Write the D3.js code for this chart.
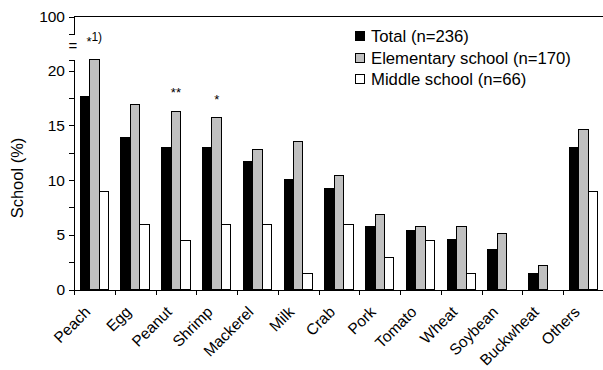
<!DOCTYPE html>
<html lang="en">
<head>
    <meta charset="UTF-8">
    <title>Food allergy by school</title>
    <script src="https://d3js.org/d3.v7.min.js"></script>
    <style>
        body { margin: 0; background: #fff; }
        svg text { font-family: "Liberation Sans", Arial, sans-serif; fill: #000; }
        .axis path, .axis line { fill: none; stroke: #000; shape-rendering: crispEdges; }
        .axis text { font-size: 15.5px; }
        .bar { stroke: #000; stroke-width: 1px; shape-rendering: crispEdges; }
    </style>
</head>
<body>
<svg width="603" height="370"></svg>
<script>
    // Data
    const categories = ["Peach", "Egg", "Peanut", "Shrimp", "Mackerel", "Milk", "Crab",
        "Pork", "Tomato", "Wheat", "Soybean", "Buckwheat", "Others"];
    const series = ["Total (n=236)", "Elementary school (n=170)", "Middle school (n=66)"];
    const total      = [17.6, 13.9, 13.0, 13.0, 11.7, 10.1, 9.2, 5.8, 5.4, 4.6, 3.7, 1.5, 13.0];
    const elementary = [21.0, 16.9, 16.3, 15.7, 12.8, 13.5, 10.4, 6.9, 5.8, 5.8, 5.1, 2.2, 14.6];
    const middle     = [9.0, 5.9, 4.5, 5.9, 5.9, 1.5, 5.9, 2.9, 4.5, 1.5, 0, 0, 9.0];
    const yTicks = [0, 2.5, 5, 7.5, 10, 12.5, 15, 17.5, 20];
    const marks = [{cat: "Peach", text: "*", sup: "1)"}, {cat: "Peanut", text: "**"}, {cat: "Shrimp", text: "*"}];

    const colors = ["#000000", "#c0c0c0", "#ffffff"];
    const values = [total, elementary, middle];

    const svg = d3.select("svg");

    // lower part of the broken axis (0-21), upper stub shows 100
    const y = d3.scaleLinear().domain([0, 21]).range([289.5, 59.8]);
    const yTop = d3.scaleLinear().domain([99, 100]).range([34, 16.5]);

    const x = d3.scaleBand().domain(categories).range([74, 604]).padding(0);
    const xSub = d3.scaleBand().domain(series).range([0, x.bandwidth()]).paddingOuter(0.66);

    // bars
    series.forEach((s, i) => {
        svg.append("g").selectAll("rect")
            .data(categories.map((c, j) => ({cat: c, v: values[i][j]})).filter(d => d.v > 0))
            .join("rect")
            .attr("class", "bar")
            .attr("x", d => x(d.cat) + xSub(s))
            .attr("y", d => y(d.v))
            .attr("width", xSub.bandwidth())
            .attr("height", d => y(0) - y(d.v))
            .attr("fill", colors[i]);
    });

    // y axis, lower segment
    svg.append("g")
        .attr("class", "axis")
        .attr("transform", "translate(74,0)")
        .call(d3.axisLeft(y).tickValues(yTicks).tickSizeOuter(0).tickSize(5).tickPadding(4)
            .tickFormat(d => d % 5 === 0 ? d : ""));

    // y axis, upper segment
    svg.append("g")
        .attr("class", "axis")
        .attr("transform", "translate(74,0)")
        .call(d3.axisLeft(yTop).tickValues([100]).tickSizeOuter(0).tickSize(5).tickPadding(4)
            .tickFormat(d3.format("d")));

    // top frame line
    svg.append("line")
        .attr("x1", 74).attr("x2", 603)
        .attr("y1", yTop(100)).attr("y2", yTop(100))
        .attr("stroke", "#000").attr("shape-rendering", "crispEdges");

    // axis break sign
    svg.append("text")
        .attr("x", 73).attr("y", 51)
        .attr("text-anchor", "middle")
        .style("font-size", "15px")
        .text("=");

    // x axis with ticks on category boundaries
    const xEdge = d3.scaleLinear().domain([0, categories.length]).range(x.range());
    svg.append("g")
        .attr("class", "axis")
        .attr("transform", "translate(0," + y(0) + ")")
        .call(d3.axisBottom(xEdge).tickValues(d3.range(categories.length + 1))
            .tickSizeOuter(0).tickSize(5).tickFormat(""));

    svg.append("g").selectAll("text")
        .data(categories)
        .join("text")
        .attr("transform", d => "translate(" + (x(d) + x.bandwidth() / 2 - 3) + ",313) rotate(-45)")
        .attr("text-anchor", "end")
        .style("font-size", "15.5px")
        .text(d => d);

    // y title
    svg.append("text")
        .attr("transform", "translate(23,178) rotate(-90)")
        .attr("text-anchor", "middle")
        .style("font-size", "16.5px")
        .text("School (%)");

    // significance marks above elementary bars
    marks.forEach(m => {
        const j = categories.indexOf(m.cat);
        const cx = x(m.cat) + xSub(series[1]) + xSub.bandwidth() / 2;
        const t = svg.append("text")
            .attr("x", m.sup ? cx - 8 : cx)
            .attr("y", m.sup ? 46 : y(elementary[j]) - 14)
            .attr("text-anchor", m.sup ? "start" : "middle")
            .style("font-size", "13px")
            .text(m.text);
        if (m.sup) {
            t.append("tspan").attr("dy", -5).style("font-size", "12px").text(m.sup);
        }
    });

    // legend
    const legend = svg.append("g").attr("transform", "translate(355,29)");
    series.forEach((s, i) => {
        const row = legend.append("g").attr("transform", "translate(0," + (i * 21.7) + ")");
        row.append("rect")
            .attr("class", "bar")
            .attr("x", 0.5).attr("y", 2.5)
            .attr("width", 9).attr("height", 9)
            .attr("fill", colors[i]);
        row.append("text")
            .attr("x", 16).attr("y", 7)
            .attr("dy", "0.35em")
            .style("font-size", "16.7px")
            .text(s);
    });
</script>
</body>
</html>
